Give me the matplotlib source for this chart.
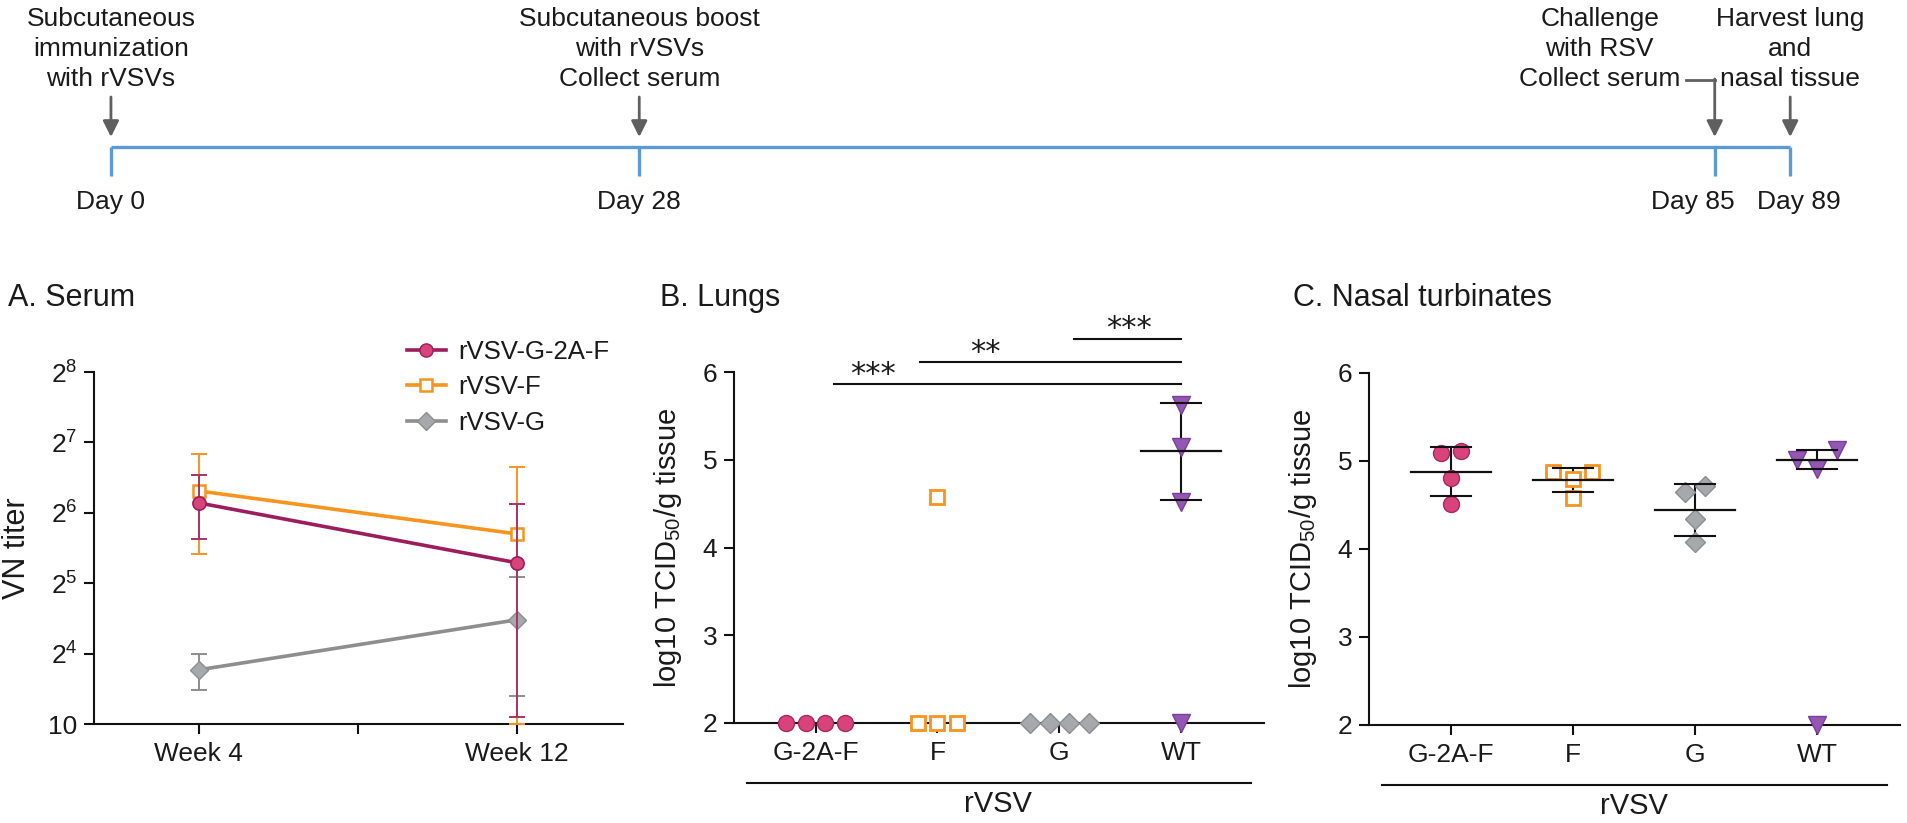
import numpy as np
import matplotlib
matplotlib.use("Agg")
import matplotlib.pyplot as plt
from matplotlib.lines import Line2D
import matplotlib.transforms as mtransforms

plt.rcParams['font.family'] = ['Liberation Sans', 'DejaVu Sans']
plt.rcParams['mathtext.fontset'] = 'custom'
plt.rcParams['mathtext.rm'] = 'Liberation Sans'
plt.rcParams['mathtext.it'] = 'Liberation Sans:italic'
plt.rcParams['mathtext.bf'] = 'Liberation Sans:bold'

# ---------------- data ----------------
# timeline
timeline_days = [0, 28, 85, 89]
timeline_labels = ['Day 0', 'Day 28', 'Day 85', 'Day 89']
timeline_events = ['Subcutaneous\nimmunization\nwith rVSVs',
                   'Subcutaneous boost\nwith rVSVs\nCollect serum',
                   'Challenge\nwith RSV\nCollect serum',
                   'Harvest lung\nand\nnasal tissue']

# Panel A: serum VN titer (log2 units; bottom tick labelled "10")
weeks = [4, 12]
week_ticks = [4, 8, 12]
week_labels = ['Week 4', '', 'Week 12']
serum_names = ['rVSV-G-2A-F', 'rVSV-F', 'rVSV-G']
serum_g2af = [6.14, 5.29]
serum_g2af_lo = [5.63, 3.10]
serum_g2af_hi = [6.53, 6.13]
serum_f = [6.31, 5.70]
serum_f_lo = [5.42, 3.00]
serum_f_hi = [6.84, 6.65]
serum_g = [3.77, 4.48]
serum_g_lo = [3.49, 3.40]
serum_g_hi = [4.00, 5.09]
serum_yticks = [3, 4, 5, 6, 7, 8]
serum_yticklabels = ['10', '$2^{4}$', '$2^{5}$', '$2^{6}$', '$2^{7}$', '$2^{8}$']

# Panels B and C: log10 TCID50/g tissue
groups = ['G-2A-F', 'F', 'G', 'WT']
lungs_g2af = [2.0, 2.0, 2.0, 2.0]
lungs_f = [4.58, 2.0, 2.0, 2.0]
lungs_g = [2.0, 2.0, 2.0, 2.0]
lungs_wt = [5.62, 5.15, 4.52, 2.0]
nasal_g2af = [5.09, 5.11, 4.81, 4.51]
nasal_f = [4.87, 4.80, 4.87, 4.58]
nasal_g = [4.65, 4.72, 4.34, 4.08]
nasal_wt = [5.01, 4.91, 5.125, 2.0]
detection_limit = 2.0
tissue_yticks = [2, 3, 4, 5, 6]
lung_sig_labels = ['***', '**', '***']
lung_sig_from = [0, 1, 2]
lung_sig_to = [3, 3, 3]

# ---------------- styles ----------------
PINK = '#d9437c'
PINK_E = '#a8275f'
MAGENTA = '#9c1d5e'
ORANGE = '#f7941d'
GRAY = '#a6a8ab'
GRAY_E = '#8c8e91'
GRAY_L = '#8e8e8e'
PURPLE = '#9457b4'
PURPLE_E = '#7a3f99'
BLUE = '#5b9bd5'
ARROW = '#5f5f5f'
TXT = '#1a1a1a'

W, H = 1907, 823
fig = plt.figure(figsize=(W / 100, H / 100), dpi=100)


def px_axes(l, t, r, b):
    return [l / W, 1 - b / H, (r - l) / W, (b - t) / H]


# ---------------- timeline ----------------
tl = fig.add_axes([0, 1 - 235 / H, 1, 235 / H])
tl.set_xlim(-5.88, 95.19)
tl.set_ylim(235, 0)
tl.axis('off')
LINE_Y, TICK_Y = 147, 176
label_shift = [0, 0, -16, 6]   # small horizontal nudges (points) so labels do not collide
tl.plot([timeline_days[0], timeline_days[-1]], [LINE_Y, LINE_Y], color=BLUE, lw=2.4,
        solid_capstyle='butt')
for d, lab, sh in zip(timeline_days, timeline_labels, label_shift):
    tl.plot([d, d], [LINE_Y, TICK_Y], color=BLUE, lw=2.4, solid_capstyle='butt')
    tl.annotate(lab, xy=(d, 202), xytext=(sh, 0), textcoords='offset points',
                ha='center', va='center', fontsize=19, color=TXT)

arrow_kw = dict(arrowstyle='-|>', color=ARROW, lw=2.0, mutation_scale=24,
                shrinkA=0, shrinkB=0)
for i, (d, ev) in enumerate(zip(timeline_days, timeline_events)):
    if i == 2:
        tx = d - 6.1
        tl.text(tx, 49, ev, ha='center', va='center', fontsize=19, color=TXT,
                linespacing=1.32)
        tl.plot([d - 1.5, d], [80, 80], color=ARROW, lw=2.0)
        tl.annotate('', xy=(d, 137), xytext=(d, 79), arrowprops=arrow_kw)
    else:
        tl.text(d, 49, ev, ha='center', va='center', fontsize=19, color=TXT,
                linespacing=1.32)
        tl.annotate('', xy=(d, 137), xytext=(d, 97), arrowprops=arrow_kw)

# ---------------- common axis style ----------------


def style_axis(ax):
    for s in ['top', 'right']:
        ax.spines[s].set_visible(False)
    for s in ['left', 'bottom']:
        ax.spines[s].set_linewidth(1.5)
        ax.spines[s].set_color('#111111')
    ax.tick_params(axis='both', length=7, width=1.5, color='#111111',
                   labelsize=19, labelcolor=TXT, direction='out')
    ax.tick_params(axis='y', pad=5)
    ax.tick_params(axis='x', pad=6)


# ---------------- Panel A ----------------
axA = fig.add_axes(px_axes(94, 372, 623, 724))
style_axis(axA)
axA.set_xlim(1.36, 14.67)
axA.set_ylim(3, 8)
axA.set_xticks(week_ticks)
axA.set_xticklabels(week_labels)
axA.set_yticks(serum_yticks)
axA.set_yticklabels(serum_yticklabels)

series = [
    (serum_g, serum_g_lo, serum_g_hi, GRAY_L, GRAY_L,
     dict(marker='D', mfc=GRAY, mec=GRAY_E, ms=9.5, mew=1), 2),
    (serum_f, serum_f_lo, serum_f_hi, ORANGE, ORANGE,
     dict(marker='s', mfc='white', mec=ORANGE, ms=9, mew=1.8), 3),
    (serum_g2af, serum_g2af_lo, serum_g2af_hi, MAGENTA, '#a8336c',
     dict(marker='o', mfc=PINK, mec=MAGENTA, ms=9.5, mew=1.2), 4),
]
for vals, lo, hi, lc, ec, mk, z in series:
    v = np.array(vals)
    yerr = [v - np.array(lo), np.array(hi) - v]
    axA.errorbar(weeks, v, yerr=yerr, fmt='none', ecolor=ec, elinewidth=1.4,
                 capsize=5.5, capthick=1.4, zorder=z, clip_on=False)
    axA.plot(weeks, v, color=lc, lw=2.6, zorder=z + 0.1, clip_on=False, **mk)

handles = [
    Line2D([], [], color=MAGENTA, lw=2.6, marker='o', mfc=PINK, mec=MAGENTA, ms=9.5),
    Line2D([], [], color=ORANGE, lw=2.6, marker='s', mfc='white', mec=ORANGE, ms=9, mew=1.8),
    Line2D([], [], color=GRAY_L, lw=2.6, marker='D', mfc=GRAY, mec=GRAY_E, ms=9.5),
]
leg = axA.legend(handles, serum_names, loc='upper left', bbox_to_anchor=(0.592, 1.092),
                 frameon=False, fontsize=18.5, handlelength=1.5, handletextpad=0.5,
                 labelspacing=0.45, borderpad=0, borderaxespad=0)
for t in leg.get_texts():
    t.set_color(TXT)
axA.text(-0.146, 0.5, 'VN titer', transform=axA.transAxes, rotation=90,
         ha='center', va='center', fontsize=22, color=TXT)

# ---------------- Panels B and C ----------------
group_styles = [
    dict(marker='o', mfc=PINK, mec=PINK_E, ms=11.5, mew=1),
    dict(marker='s', mfc='white', mec=ORANGE, ms=10, mew=2),
    dict(marker='D', mfc=GRAY, mec=GRAY_E, ms=10, mew=1),
    dict(marker='v', mfc=PURPLE, mec=PURPLE_E, ms=12.5, mew=1),
]
SPREAD = 0.16
ROW_TOL = 0.16


def spread_offsets(vals):
    rows = []
    for i, v in enumerate(vals):
        placed = False
        for row in rows:
            if any(abs(v - vals[j]) <= ROW_TOL for j in row):
                row.append(i)
                placed = True
                break
        if not placed:
            rows.append([i])
    offs = np.zeros(len(vals))
    for row in rows:
        n = len(row)
        for k, j in enumerate(row):
            offs[j] = (k - (n - 1) / 2) * SPREAD
    return offs


def tissue_panel(rect, data):
    ax = fig.add_axes(rect)
    style_axis(ax)
    ax.set_xlim(-0.67, 3.68)
    ax.set_ylim(2, 6)
    ax.set_yticks(tissue_yticks)
    ax.set_xticks(range(len(groups)))
    ax.set_xticklabels(groups)
    for gi, (vals, st) in enumerate(zip(data, group_styles)):
        offs = spread_offsets(vals)
        ax.plot(gi + offs, vals, ls='none', zorder=3, clip_on=False, **st)
        pos = [v for v in vals if v > detection_limit]
        if len(pos) >= 2:
            m = np.mean(pos)
            sd = np.std(pos, ddof=1)
            ax.plot([gi, gi], [m - sd, m + sd], color='#111111', lw=1.5, zorder=2)
            ax.plot([gi - 0.33, gi + 0.33], [m, m], color='#111111', lw=1.6, zorder=4)
            for yy in (m - sd, m + sd):
                ax.plot([gi - 0.165, gi + 0.165], [yy, yy], color='#111111', lw=1.5,
                        zorder=4)
    tr = mtransforms.blended_transform_factory(ax.transData, ax.transAxes)
    ax.plot([-0.56, 3.57], [-0.171, -0.171], color='#111111', lw=1.5, transform=tr,
            clip_on=False)
    ax.text(1.5, -0.23, 'rVSV', transform=tr, ha='center', va='center', fontsize=21,
            color=TXT)
    ax.text(-0.125, 0.5, 'log10 TCID$_{50}$/g tissue', transform=ax.transAxes,
            rotation=90, ha='center', va='center', fontsize=21, color=TXT)
    return ax


axB = tissue_panel(px_axes(734, 372, 1264, 723), [lungs_g2af, lungs_f, lungs_g, lungs_wt])
axC = tissue_panel(px_axes(1369, 373, 1900, 725), [nasal_g2af, nasal_f, nasal_g, nasal_wt])

# significance bars in panel B
sig_y = [5.86, 6.11, 6.38]
sig_x0 = [0.15, 0.86, 2.12]
sig_tx = [0.47, 1.39, 2.57]
for lab, a, b, y, x0, tx in zip(lung_sig_labels, lung_sig_from, lung_sig_to, sig_y, sig_x0, sig_tx):
    axB.plot([x0, b], [y, y], color='#111111', lw=1.5, clip_on=False)
    axB.text(tx, y + 0.02, lab, ha='center', va='baseline', fontsize=22,
             family=['DejaVu Sans'], color=TXT, clip_on=False)

# panel titles
for x, t in [(8, 'A. Serum'), (660, 'B. Lungs'), (1293, 'C. Nasal turbinates')]:
    fig.text(x / W, 1 - 298 / H, t, ha='left', va='center', fontsize=22, color=TXT)

fig.savefig('out.png', dpi=100)
